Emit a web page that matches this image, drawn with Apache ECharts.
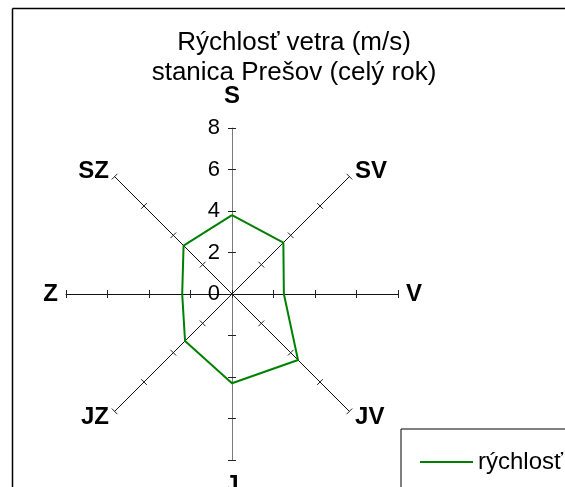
<!DOCTYPE html>
<html><head><meta charset="utf-8">
<script src="https://cdn.jsdelivr.net/npm/echarts@6/dist/echarts.min.js"></script>
<style>html,body{margin:0;padding:0;background:#fff;overflow:hidden}#c{width:565px;height:487px}</style>
</head><body><div id="c"></div>
<script>
// wind directions, clockwise from north (S = sever)
const directions = ['S', 'SV', 'V', 'JV', 'J', 'JZ', 'Z', 'SZ'];
// mean wind speed (m/s) per direction
const speeds = [3.8, 3.5, 2.5, 4.5, 4.3, 3.2, 2.4, 3.3];
const axisMin = 0;
const axisMax = 8;
const tickStep = 2;
const titleLines = ['Rýchlosť vetra (m/s)', 'stanica Prešov (celý rok)'];
const seriesName = 'rýchlosť';

const FONT = '"Liberation Sans", Arial, sans-serif';
const labelStyle = { color: '#000', fontSize: 22, margin: 12, fontFamily: FONT };
// ECharts places radar indicators counterclockwise: keep north first, then go west
const order = [0, 7, 6, 5, 4, 3, 2, 1];
const isVertical = i => directions[i] === 'S' || directions[i] === 'J';
const indicators = order.map(i => ({
  name: directions[i], min: axisMin, max: axisMax,
  axisLabel: Object.assign({ show: i === 0 }, labelStyle),
  axisLine: { lineStyle: { color: isVertical(i) ? '#7a7a7a' : '#111' } }
}));
const indicatorsTicks = order.map(i => ({
  name: directions[i], min: axisMin, max: axisMax,
  axisLabel: { show: false }
}));
const values = order.map(i => speeds[i]);
const splits = (axisMax - axisMin) / tickStep;

const chart = echarts.init(document.getElementById('c'), null, { renderer: 'canvas' });
chart.setOption({
  animation: false,
  backgroundColor: '#fff',
  title: {
    text: titleLines.join('\n'),
    left: 294, top: 28, textAlign: 'center', padding: 0,
    textStyle: { fontSize: 26, fontWeight: 'normal', color: '#000', lineHeight: 30, fontFamily: FONT }
  },
  legend: {
    left: 401, top: 429,
    data: [{ name: seriesName, icon: 'rect' }],
    itemWidth: 53, itemHeight: 2,
    padding: [21, 80, 60, 19],
    borderColor: '#000', borderWidth: 1,
    textStyle: { fontSize: 24, color: '#000', fontFamily: FONT }
  },
  graphic: [{
    type: 'line', silent: true, z: -10,
    shape: { x1: 12.5, y1: 8.5, x2: 565, y2: 8.5 },
    style: { stroke: '#000', lineWidth: 1.5 }
  }, {
    type: 'line', silent: true, z: -10,
    shape: { x1: 12.5, y1: 8.5, x2: 12.5, y2: 487 },
    style: { stroke: '#000', lineWidth: 1.5 }
  }, {
    type: 'rect', silent: true, z: 100,
    shape: { x: 545, y: 10, width: 25, height: 60 },
    style: { fill: '#fff' }
  }],
  radar: [{
    center: [232, 294], radius: 166, startAngle: 90,
    splitNumber: splits, shape: 'polygon',
    nameGap: 8,
    axisName: {
      color: '#000', fontWeight: 'bold', fontSize: 24, fontFamily: FONT,
      formatter: n => n === 'S' ? '{s|S}' : (n === 'J' ? '{j|J}' : n),
      rich: {
        s: { padding: [0, 0, 12, 0], fontWeight: 'bold', fontSize: 24, fontFamily: FONT, color: '#000' },
        j: { padding: [5, 0, 0, 0], fontWeight: 'bold', fontSize: 24, fontFamily: FONT, color: '#000' }
      }
    },
    axisLine: { lineStyle: { color: '#111', width: 1 } },
    axisTick: { show: true, length: 4, lineStyle: { color: '#222', width: 1 } },
    axisLabel: Object.assign({ show: false }, labelStyle),
    splitLine: { show: false }, splitArea: { show: false },
    indicator: indicators
  }, {
    center: [232, 294], radius: 166, startAngle: 90,
    splitNumber: splits, shape: 'polygon',
    axisName: { show: false },
    axisLine: { show: false },
    axisTick: { show: true, length: -4, lineStyle: { color: '#222', width: 1 } },
    axisLabel: { show: false },
    splitLine: { show: false }, splitArea: { show: false },
    indicator: indicatorsTicks
  }],
  series: [{
    type: 'radar', radarIndex: 0, name: seriesName,
    color: '#008000',
    symbol: 'none',
    lineStyle: { color: '#008000', width: 2 },
    itemStyle: { color: '#008000' },
    areaStyle: null,
    data: [{ name: seriesName, value: values }]
  }]
});
</script></body></html>
